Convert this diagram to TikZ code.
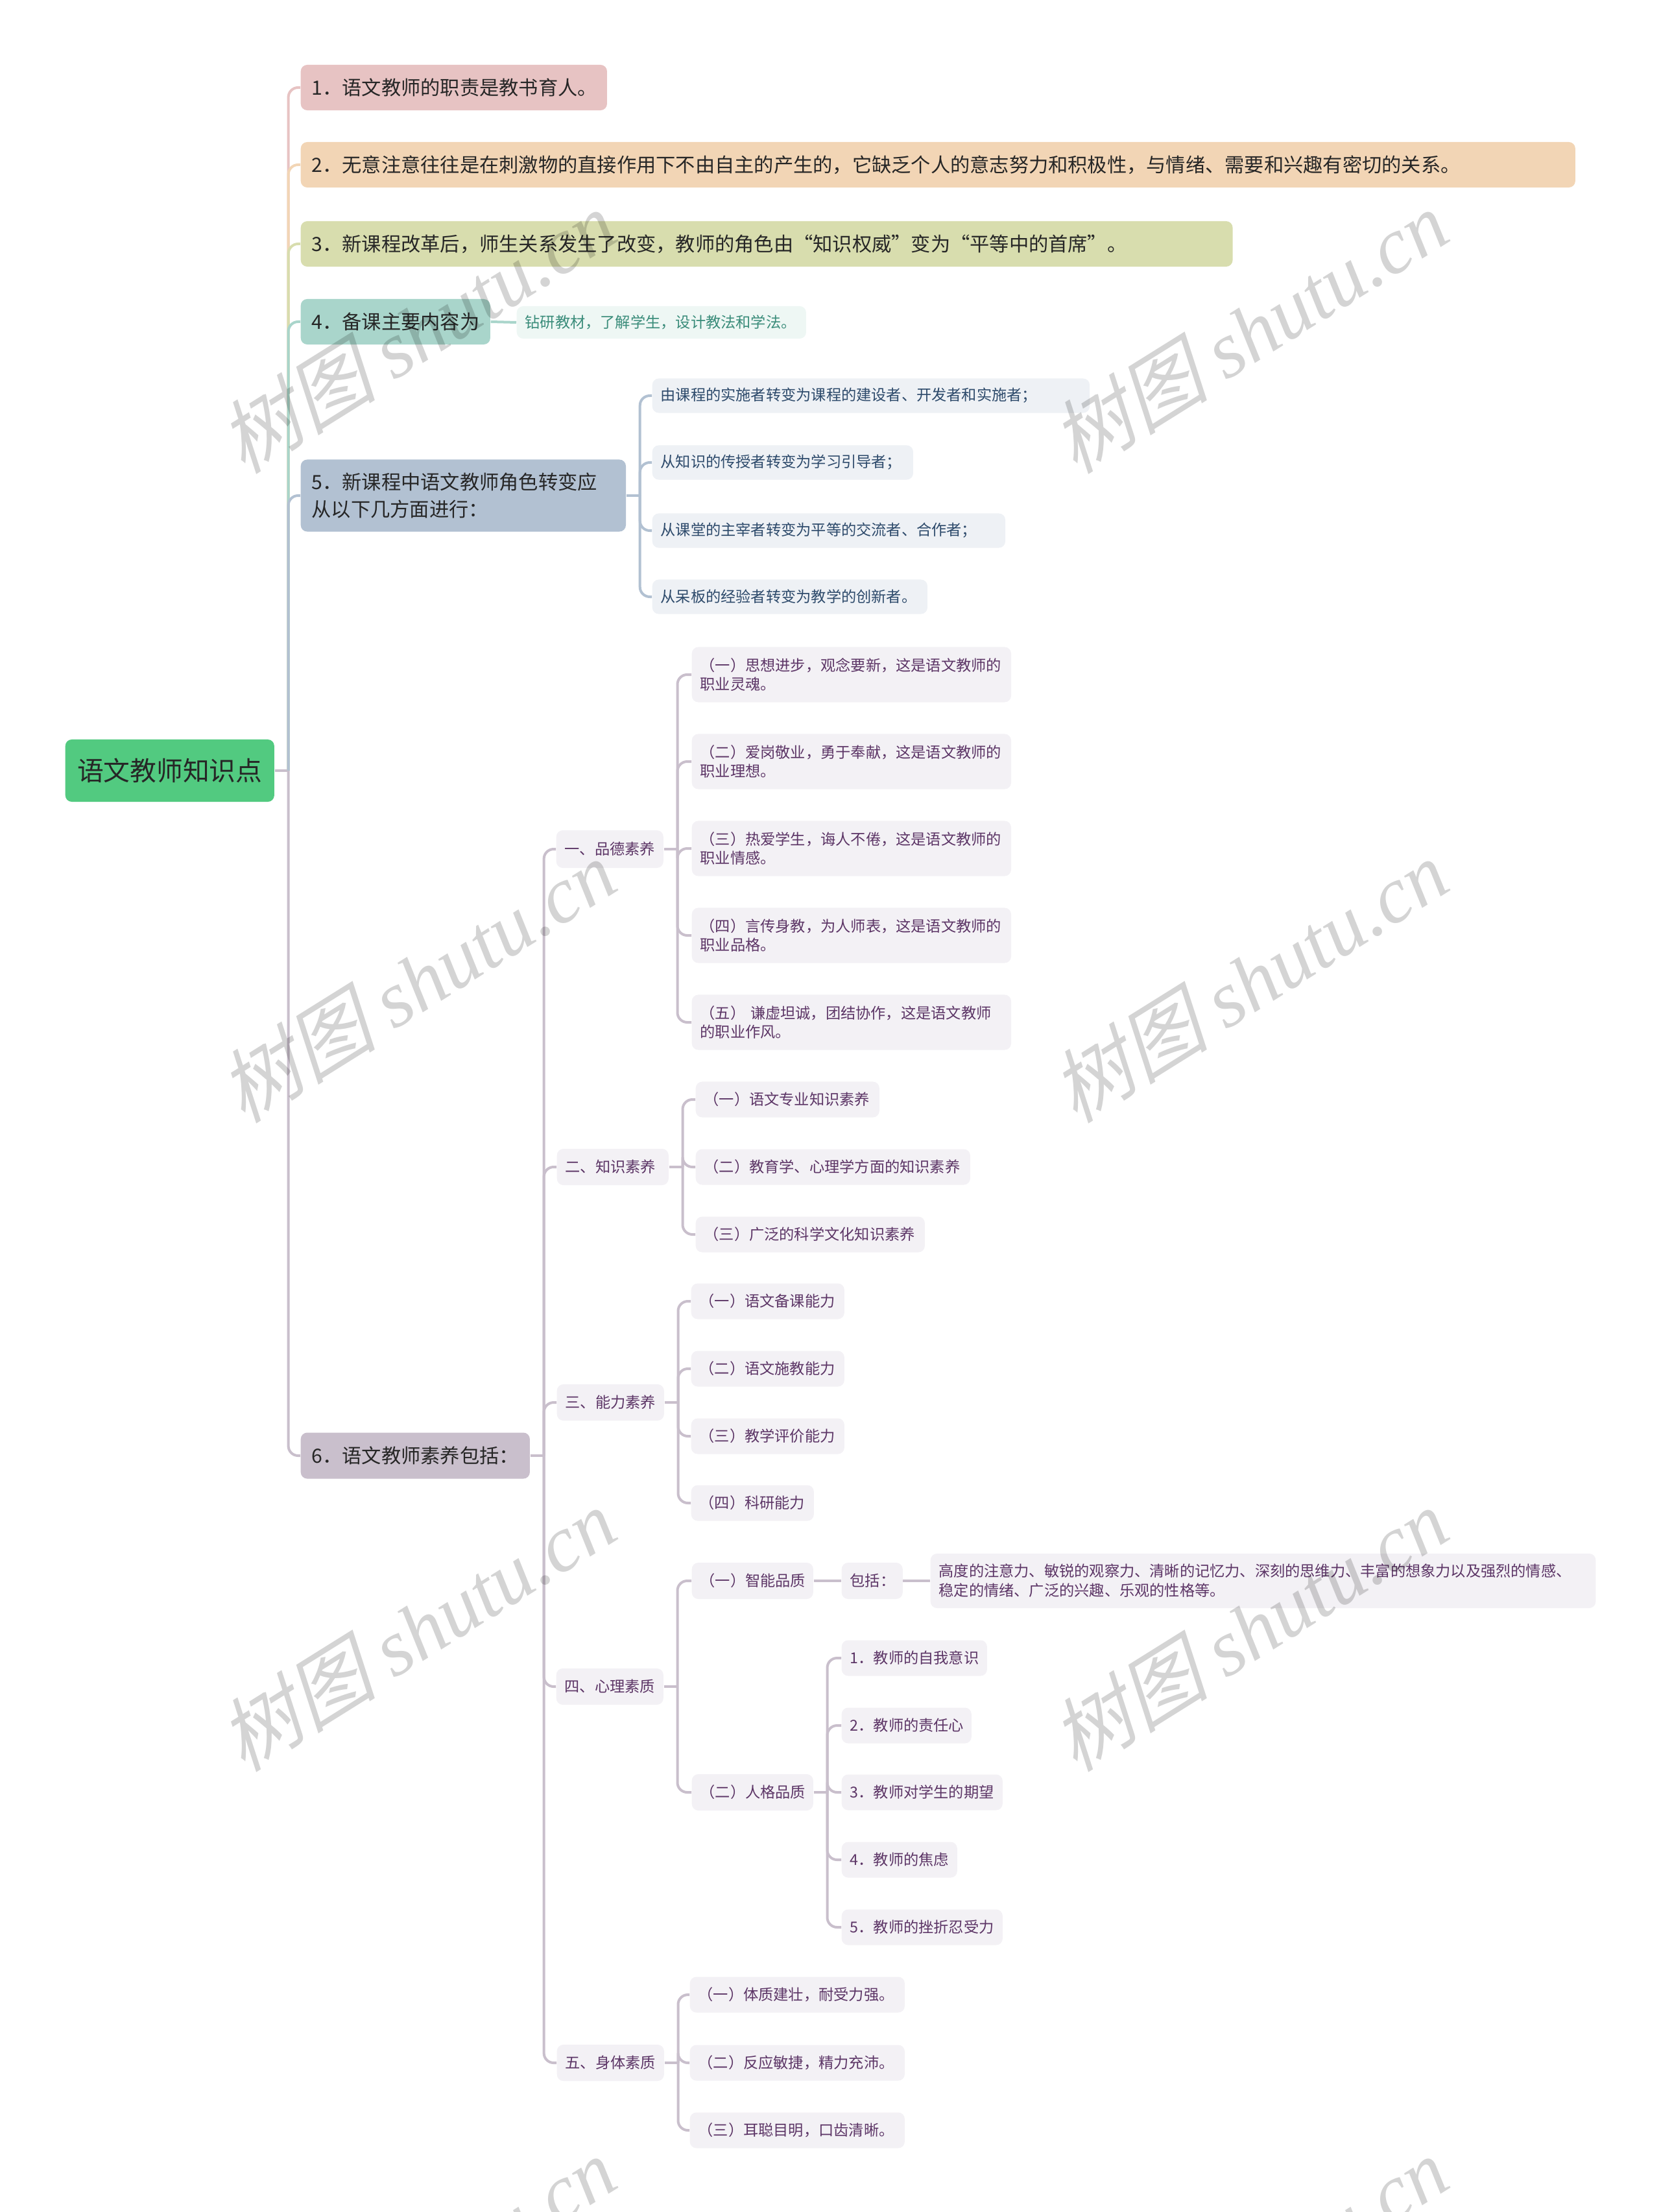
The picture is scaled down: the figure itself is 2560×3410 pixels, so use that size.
\documentclass[tikz,border=0pt]{standalone}
\usepackage{fontspec}
\setmainfont{Noto Sans CJK SC}
\newfontfamily\wmcjk{Noto Sans CJK SC}[FakeSlant=0.25]
\newfontfamily\wmlatin{Liberation Serif}
\usepackage{tikz}
\usepackage{xcolor}
\usetikzlibrary{calc}

\definecolor{RootGreen}{HTML}{52CA80}
\definecolor{BranchA}{HTML}{E7C3C3}
\definecolor{BranchB}{HTML}{F2D5B5}
\definecolor{BranchC}{HTML}{D8DDAE}
\definecolor{BranchD}{HTML}{A9D5CB}
\definecolor{BranchE}{HTML}{B2C1D2}
\definecolor{BranchF}{HTML}{C9BFCC}
\definecolor{LeafD}{HTML}{EEF7F4}
\definecolor{LeafDText}{HTML}{3A8C7A}
\definecolor{LeafE}{HTML}{EEF1F5}
\definecolor{LeafEText}{HTML}{2D4A6B}
\definecolor{LeafF}{HTML}{F3F1F5}
\definecolor{LeafFText}{HTML}{5C3566}

\tikzset{
  rootbox/.style={fill=RootGreen, rounded corners=0.1cm, anchor=west, inner sep=0.05cm,
    minimum width=3.22cm, minimum height=0.96cm, text=black!85,
    font=\fontsize{11.6}{14}\selectfont},
  topicbox/.style={rounded corners=0.1cm, anchor=west, inner xsep=0.17cm, inner ysep=0.05cm, align=left,
    minimum height=0.70cm, text=black!85, font=\fontsize{8.6}{11.7}\selectfont},
  leafbox/.style={rounded corners=0.1cm, anchor=west, inner xsep=0.13cm, inner ysep=0.05cm, align=left,
    minimum height=0.55cm, fill=LeafF, text=LeafFText, font=\fontsize{6.6}{8.5}\selectfont},
  tw/.style={minimum width=#1cm, text width=#1cm-0.34cm},
  lw/.style={minimum width=#1cm, text width=#1cm-0.26cm},
  link/.style={line width=0.04cm, rounded corners=0.15cm},
  watermark/.style={rotate=32, text=black, opacity=0.17, font=\fontsize{35}{35}\selectfont}
}

\begin{document}
\begin{tikzpicture}[x=0.01cm, y=-0.01cm]
    \useasboundingbox (0,0) rectangle (2560,3410);
    \def \stub {21}  % Length of the stub from a box to its bus

    % Central topic
    \node[rootbox] (root) at (100,1188) {语文教师知识点};

    % Main branches
    \node[topicbox, fill=BranchA, tw=4.72] (n1) at (463,135) {1．语文教师的职责是教书育人。};
    \node[topicbox, fill=BranchB, tw=19.64] (n2) at (463,254) {2．无意注意往往是在刺激物的直接作用下不由自主的产生的，它缺乏个人的意志努力和积极性，与情绪、需要和兴趣有密切的关系。};
    \node[topicbox, fill=BranchC, tw=14.36] (n3) at (463,376) {3．新课程改革后，师生关系发生了改变，教师的角色由“知识权威”变为“平等中的首席”。};
    \node[topicbox, fill=BranchD, tw=2.92] (n4) at (463,496) {4．备课主要内容为};
    \node[topicbox, fill=BranchE, tw=5.01, minimum height=1.11cm] (n5) at (463,764) {5．新课程中语文教师角色转变应\\从以下几方面进行：};
    \node[topicbox, fill=BranchF, tw=3.53, minimum height=0.71cm] (n6) at (463,2244) {6．语文教师素养包括：};

    % Leaves of 4 and 5
    \node[leafbox, fill=LeafD, text=LeafDText, lw=4.46, minimum height=0.50cm] (n4a) at (796,497) {钻研教材，了解学生，设计教法和学法。};
    \node[leafbox, fill=LeafE, text=LeafEText, lw=6.74, minimum height=0.53cm] (n5a) at (1005,610) {由课程的实施者转变为课程的建设者、开发者和实施者；};
    \node[leafbox, fill=LeafE, text=LeafEText, lw=4.02, minimum height=0.53cm] (n5b) at (1005,713) {从知识的传授者转变为学习引导者；};
    \node[leafbox, fill=LeafE, text=LeafEText, lw=5.44, minimum height=0.53cm] (n5c) at (1005,818) {从课堂的主宰者转变为平等的交流者、合作者；};
    \node[leafbox, fill=LeafE, text=LeafEText, lw=4.24, minimum height=0.53cm] (n5d) at (1005,920) {从呆板的经验者转变为教学的创新者。};

    % Second level of 6
    \node[leafbox, lw=1.65, minimum height=0.58cm] (a1) at (857,1309) {一、品德素养};
    \node[leafbox, lw=1.72, minimum height=0.56cm] (a2) at (858,1799) {二、知识素养};
    \node[leafbox, lw=1.65, minimum height=0.56cm] (a3) at (858,2162) {三、能力素养};
    \node[leafbox, lw=1.65, minimum height=0.56cm] (a4) at (857,2600) {四、心理素质};
    \node[leafbox, lw=1.65, minimum height=0.56cm] (a5) at (858,3180) {五、身体素质};

    % 一、品德素养
    \node[leafbox, lw=4.92, minimum height=0.85cm] (p1) at (1066,1040) {（一）思想进步，观念要新，这是语文教师的\\职业灵魂。};
    \node[leafbox, lw=4.92, minimum height=0.85cm] (p2) at (1066,1174) {（二）爱岗敬业，勇于奉献，这是语文教师的\\职业理想。};
    \node[leafbox, lw=4.92, minimum height=0.85cm] (p3) at (1066,1308) {（三）热爱学生，诲人不倦，这是语文教师的\\职业情感。};
    \node[leafbox, lw=4.92, minimum height=0.85cm] (p4) at (1066,1442) {（四）言传身教，为人师表，这是语文教师的\\职业品格。};
    \node[leafbox, lw=4.92, minimum height=0.85cm] (p5) at (1066,1576) {（五）~谦虚坦诚，团结协作，这是语文教师\\的职业作风。};

    % 二、知识素养
    \node[leafbox, lw=2.83] (q1) at (1072,1695) {（一）语文专业知识素养};
    \node[leafbox, lw=4.23] (q2) at (1072,1799) {（二）教育学、心理学方面的知识素养};
    \node[leafbox, lw=3.53] (q3) at (1072,1903) {（三）广泛的科学文化知识素养};

    % 三、能力素养
    \node[leafbox, lw=2.36] (r1) at (1065,2006) {（一）语文备课能力};
    \node[leafbox, lw=2.36] (r2) at (1065,2110) {（二）语文施教能力};
    \node[leafbox, lw=2.36] (r3) at (1065,2214) {（三）教学评价能力};
    \node[leafbox, lw=1.89] (r4) at (1065,2317) {（四）科研能力};

    % 四、心理素质
    \node[leafbox, lw=1.87, minimum height=0.56cm] (s1) at (1066,2437) {（一）智能品质};
    \node[leafbox, lw=0.94, minimum height=0.56cm] (s1a) at (1297,2437) {包括：};
    \node[leafbox, lw=10.25, minimum height=0.84cm] (s1b) at (1434,2437) {高度的注意力、敏锐的观察力、清晰的记忆力、深刻的思维力、丰富的想象力以及强烈的情感、\\稳定的情绪、广泛的兴趣、乐观的性格等。};
    \node[leafbox, lw=1.87, minimum height=0.56cm] (s2) at (1066,2763) {（二）人格品质};
    \node[leafbox, lw=2.24] (t1) at (1297,2556) {1．教师的自我意识};
    \node[leafbox, lw=2.00] (t2) at (1297,2660) {2．教师的责任心};
    \node[leafbox, lw=2.48] (t3) at (1297,2763) {3．教师对学生的期望};
    \node[leafbox, lw=1.78] (t4) at (1297,2867) {4．教师的焦虑};
    \node[leafbox, lw=2.48] (t5) at (1297,2971) {5．教师的挫折忍受力};

    % 五、身体素质
    \node[leafbox, lw=3.31] (u1) at (1063,3075) {（一）体质建壮，耐受力强。};
    \node[leafbox, lw=3.31] (u2) at (1063,3180) {（二）反应敏捷，精力充沛。};
    \node[leafbox, lw=3.31] (u3) at (1063,3284) {（三）耳聪目明，口齿清晰。};

    % Draw the main spine, one colour per branch
    \draw[link, draw=BranchF] (root.east) -- ++(\stub,0) coordinate (j0);
    \foreach \n/\c in {n1/BranchA, n2/BranchB, n3/BranchC, n4/BranchD, n5/BranchE, n6/BranchF} {
        \draw[link, draw=\c] (j0) |- (\n.west);
    }

    % Draw the leaves of 4 and 5
    \draw[link, draw=BranchD] (n4.east) -- (n4a.west);
    \draw[link, draw=BranchE] (n5.east) -- ++(\stub,0) coordinate (j5);
    \foreach \k in {n5a,n5b,n5c,n5d} {
        \draw[link, draw=BranchE] (j5) |- (\k.west);
    }

    % Draw the tree of 6
    \draw[link, draw=BranchF] (n6.east) -- ++(\stub,0) coordinate (j6);
    \foreach \k in {a1,a2,a3,a4,a5} {
        \draw[link, draw=BranchF] (j6) |- (\k.west);
    }
    \draw[link, draw=BranchF] (a1.east) -- ++(\stub,0) coordinate (ja1);
    \foreach \k in {p1,p2,p3,p4,p5} {
        \draw[link, draw=BranchF] (ja1) |- (\k.west);
    }
    \draw[link, draw=BranchF] (a2.east) -- ++(\stub,0) coordinate (ja2);
    \foreach \k in {q1,q2,q3} {
        \draw[link, draw=BranchF] (ja2) |- (\k.west);
    }
    \draw[link, draw=BranchF] (a3.east) -- ++(\stub,0) coordinate (ja3);
    \foreach \k in {r1,r2,r3,r4} {
        \draw[link, draw=BranchF] (ja3) |- (\k.west);
    }
    \draw[link, draw=BranchF] (a4.east) -- ++(\stub,0) coordinate (ja4);
    \foreach \k in {s1,s2} {
        \draw[link, draw=BranchF] (ja4) |- (\k.west);
    }
    \draw[link, draw=BranchF] (s1.east) -- (s1a.west);
    \draw[link, draw=BranchF] (s1a.east) -- (s1b.west);
    \draw[link, draw=BranchF] (s2.east) -- ++(\stub,0) coordinate (js2);
    \foreach \k in {t1,t2,t3,t4,t5} {
        \draw[link, draw=BranchF] (js2) |- (\k.west);
    }
    \draw[link, draw=BranchF] (a5.east) -- ++(\stub,0) coordinate (ja5);
    \foreach \k in {u1,u2,u3} {
        \draw[link, draw=BranchF] (ja5) |- (\k.west);
    }

    % Watermarks
    \begin{scope}
        \clip (0,0) rectangle (2560,3410);
        \foreach \wx in {642,1925} {
            \foreach \wy in {511,1512,2512,3512} {
                \node[watermark] (wm-\wx-\wy) at (\wx,\wy) {{\wmcjk 树图} {\wmlatin\itshape shutu.cn}};
            }
        }
    \end{scope}
\end{tikzpicture}
\end{document}
